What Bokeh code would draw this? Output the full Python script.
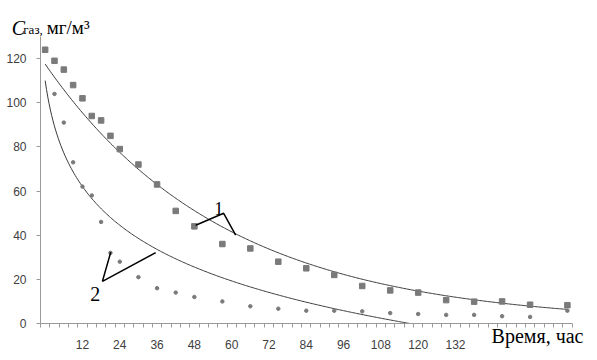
import numpy as np
from bokeh.plotting import figure
from bokeh.models import Range1d, FixedTicker, Label
from bokeh.embed import file_html
from bokeh.resources import INLINE

# ---- data ----
hours_1 = [0, 3, 6, 9, 12, 15, 18, 21, 24, 30, 36, 42, 48, 57, 66, 75, 84, 93,
           102, 111, 120, 129, 138, 147, 156, 168]
conc_1 = [124, 119, 115, 108, 102, 94, 92, 85, 79, 72, 63, 51, 44, 36, 34, 28,
          25, 22, 17, 15, 14, 10.6, 9.9, 10, 8.5, 8.3]
hours_2 = [3, 6, 9, 12, 15, 18, 21, 24, 30, 36, 42, 48, 57, 66, 75, 84, 93,
           102, 111, 120, 129, 138, 147, 156, 168]
conc_2 = [104, 91, 73, 62, 58, 46, 32, 28, 21, 16, 14, 12, 10, 7.8, 6.7, 5.8,
          5.8, 5.5, 4.7, 4.3, 3.9, 3.9, 3.3, 3.0, 5.8]
x_tick_labels = [12, 24, 36, 48, 60, 72, 84, 96, 108, 120, 132]
y_tick_labels = [0, 20, 40, 60, 80, 100, 120]
category_step = 3  # hours between categories

# trend-line coefficients (x = category index)
trend1_a, trend1_k = 117.5, 0.052     # exponential: a*exp(-k*(idx-1))
trend2_a, trend2_b = 110.0, 29.8      # logarithmic: a - b*ln(idx)

t_fit = np.linspace(0, hours_1[-1], 400)
idx_fit = t_fit / category_step + 1
trend_1 = trend1_a * np.exp(-trend1_k * (idx_fit - 1))
trend_2 = trend2_a - trend2_b * np.log(idx_fit)


def tx(px):
    # reference pixel -> hours
    return (px - 44.4) / 3.11


def vy(py):
    # reference pixel -> concentration
    return (324.3 - py) / 2.23


# the frame reaches a little past the axis line so the axis title can end there
p = figure(width=597, height=360, output_backend="svg", toolbar_location=None,
           x_range=Range1d(-1.5, tx(583)), y_range=Range1d(0, 130),
           min_border_left=40, min_border_right=14, min_border_top=35,
           min_border_bottom=36)
p.outline_line_color = None
p.xgrid.visible = False
p.ygrid.visible = False
p.background_fill_color = "white"
p.border_fill_color = "white"

axis_col = "#9a9a9a"
label_col = "#404040"
sans = "Liberation Sans"
serif = "Liberation Serif"

xa = p.xaxis[0]
xa.bounds = (-1.5, 169.5)
xa.ticker = FixedTicker(ticks=x_tick_labels,
                        minor_ticks=[-1.5 + category_step * k for k in range(58)])
xa.axis_line_color = axis_col
xa.major_tick_line_color = None
xa.minor_tick_line_color = axis_col
xa.minor_tick_out = 4
xa.minor_tick_in = 0
xa.major_tick_out = 4
xa.major_tick_in = 0
xa.major_label_standoff = 12
xa.major_label_text_font = sans
xa.major_label_text_font_size = "12px"
xa.major_label_text_color = label_col

xa.axis_label = "Время, час"
xa.axis_label_text_font = serif
xa.axis_label_text_font_style = "normal"
xa.axis_label_text_font_size = "20px"
xa.axis_label_text_color = "black"
xa.axis_label_align = "end"
xa.axis_label_orientation = 1e-6
xa.axis_label_standoff = -16

ya = p.yaxis[0]
ya.ticker = FixedTicker(ticks=y_tick_labels, minor_ticks=[])
ya.axis_line_color = axis_col
ya.major_tick_line_color = axis_col
ya.major_tick_out = 4
ya.major_tick_in = 0
ya.minor_tick_line_color = None
ya.major_label_standoff = 10
ya.major_label_text_font = sans
ya.major_label_text_font_size = "12px"
ya.major_label_text_color = label_col

# trend curves
p.line(t_fit, trend_1, line_color="#3a3a3a", line_width=1)
p.line(t_fit, trend_2, line_color="#3a3a3a", line_width=1)

# data markers
p.scatter(hours_1, conc_1, marker="square", size=5.5, fill_color="#7a7a7a",
          line_color="#7a7a7a")
p.scatter(hours_2, conc_2, marker="circle", size=3.5, fill_color="#7a7a7a",
          line_color="#7a7a7a")

# ---- annotations (positions given in reference pixels, converted to data) ----
lead1 = [(195, 225), (223, 213), (235, 235)]
lead2 = [(110, 252.3), (101.7, 281.7), (155, 252.7)]
for pts in (lead1, lead2):
    p.line([tx(a) for a, b in pts], [vy(b) for a, b in pts],
           line_color="black", line_width=1.5)

p.add_layout(Label(x=tx(218), y=vy(208.5), text="1", text_font=serif,
                   text_font_size="18px", text_align="center",
                   text_baseline="alphabetic", text_color="black"))
p.add_layout(Label(x=tx(94.5), y=vy(295), text="2", text_font=serif,
                   text_font_size="20px", text_align="center",
                   text_baseline="alphabetic", text_color="black"))


def outer_label(px, py, text, size, place, style="normal"):
    # labels outside the frame live in a side panel so they are not clipped
    p.add_layout(Label(x=tx(px), y=vy(py), text=text, text_font=serif,
                       text_font_style=style, text_font_size=size,
                       text_align="left", text_baseline="alphabetic",
                       text_color="black"), place)


outer_label(11, 25.5, "C", "20px", "right", "italic")
outer_label(22.5, 27, "газ,", "13px", "above")
outer_label(46, 25.5, "мг/м³", "19px", "above")

open("out.html", "w").write(file_html(p, INLINE))
